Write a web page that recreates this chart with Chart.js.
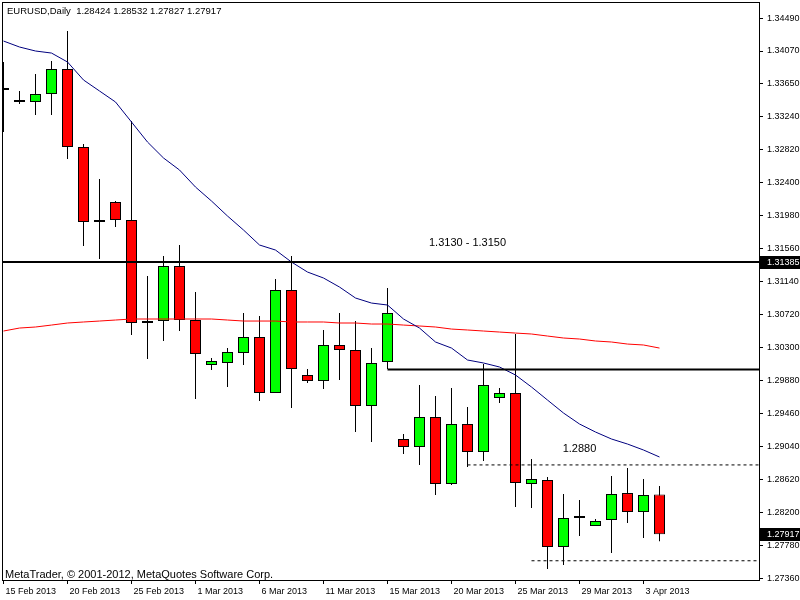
<!DOCTYPE html>
<html>
<head>
<meta charset="utf-8">
<title>EURUSD Daily</title>
<script src="https://cdn.jsdelivr.net/npm/chart.js@4.4.1/dist/chart.umd.min.js"></script>
<style>
    html, body { margin: 0; padding: 0; background: #ffffff; }
    #wrap { width: 800px; height: 600px; }
</style>
</head>
<body>
<div id="wrap"><canvas id="priceChart" width="800" height="600"></canvas></div>
<script>
// ============================================
// DATA (daily candles, 15 Feb 2013 - 4 Apr 2013)
// ============================================
const opens  = [1.33573, 1.33446, 1.33421, 1.33522, 1.33841, 1.32848, 1.31893, 1.32147, 1.31918, 1.30607,
                1.30632, 1.31332, 1.30645, 1.30072, 1.30098, 1.30225, 1.30429, 1.29716, 1.31027, 1.29945,
                1.29868, 1.30327, 1.30263, 1.29550, 1.30110, 1.29130, 1.29028, 1.29410, 1.28557, 1.29321,
                1.28964, 1.29652, 1.29716, 1.28557, 1.28608, 1.27755, 1.28124, 1.28022, 1.28099, 1.28442,
                1.28200, 1.28424];
const highs  = [1.33930, 1.33561, 1.33777, 1.33943, 1.34324, 1.32886, 1.32440, 1.32160, 1.33179, 1.31205,
                1.31460, 1.31600, 1.31001, 1.30161, 1.30288, 1.30734, 1.30696, 1.31167, 1.31460, 1.30021,
                1.30518, 1.30734, 1.30632, 1.30288, 1.31052, 1.29194, 1.29817, 1.29677, 1.29779, 1.29537,
                1.30085, 1.29779, 1.30467, 1.28875, 1.28646, 1.28430, 1.28353, 1.28111, 1.28659, 1.28761,
                1.28621, 1.28532];
const lows   = [1.33039, 1.33395, 1.33255, 1.33255, 1.32695, 1.31587, 1.31422, 1.31829, 1.30454, 1.30148,
                1.30378, 1.30505, 1.29639, 1.30008, 1.29792, 1.30072, 1.29614, 1.29716, 1.29525, 1.29843,
                1.29766, 1.29881, 1.29219, 1.29092, 1.30021, 1.28939, 1.28799, 1.28417, 1.28544, 1.28773,
                1.28850, 1.29588, 1.28264, 1.28251, 1.27475, 1.27526, 1.27895, 1.28022, 1.27678, 1.28060,
                1.27869, 1.27827];
const closes = [1.33573, 1.33421, 1.33522, 1.33841, 1.32848, 1.31893, 1.31893, 1.31918, 1.30607, 1.30632,
                1.31332, 1.30645, 1.30212, 1.30123, 1.30238, 1.30429, 1.29716, 1.31027, 1.30021, 1.29868,
                1.30327, 1.30263, 1.29550, 1.30098, 1.30734, 1.29028, 1.29410, 1.28557, 1.29321, 1.28964,
                1.29817, 1.29716, 1.28570, 1.28621, 1.27755, 1.28124, 1.28124, 1.28086, 1.28430, 1.28200,
                1.28417, 1.27917];

// moving averages
const maBlue = [1.34197, 1.34121, 1.34070, 1.34044, 1.33930, 1.33701, 1.33561, 1.33421, 1.33166, 1.32911,
                1.32708, 1.32555, 1.32338, 1.32160, 1.31969, 1.31791, 1.31600, 1.31536, 1.31383, 1.31256,
                1.31180, 1.31065, 1.30925, 1.30861, 1.30836, 1.30658, 1.30543, 1.30365, 1.30288, 1.30136,
                1.30098, 1.30047, 1.29945, 1.29792, 1.29626, 1.29461, 1.29321, 1.29219, 1.29130, 1.29066,
                1.28990, 1.28901];
const maRed  = [1.30505, 1.30543, 1.30556, 1.30581, 1.30607, 1.30620, 1.30632, 1.30645, 1.30658, 1.30658,
                1.30658, 1.30658, 1.30658, 1.30658, 1.30645, 1.30632, 1.30632, 1.30632, 1.30620, 1.30620,
                1.30620, 1.30607, 1.30607, 1.30594, 1.30594, 1.30581, 1.30569, 1.30556, 1.30530, 1.30518,
                1.30505, 1.30492, 1.30479, 1.30467, 1.30441, 1.30416, 1.30403, 1.30378, 1.30365, 1.30339,
                1.30327, 1.30288];

// axis ticks
const tickIdx    = [0, 4, 8, 12, 16, 20, 24, 28, 32, 36, 40];
const tickLabels = ['15 Feb 2013', '20 Feb 2013', '25 Feb 2013', '1 Mar 2013', '6 Mar 2013', '11 Mar 2013',
                    '15 Mar 2013', '20 Mar 2013', '25 Mar 2013', '29 Mar 2013', '3 Apr 2013'];
const priceTicks = [1.27360, 1.27780, 1.28200, 1.28620, 1.29040, 1.29460, 1.29880, 1.30300, 1.30720,
                    1.31140, 1.31560, 1.31980, 1.32400, 1.32820, 1.33240, 1.33650, 1.34070, 1.34490];

// drawn levels: [price, first bar index]
const solidLevels  = [[1.31385, -1], [1.30015, 24]];
const dashedLevels = [[1.28800, 29], [1.27580, 33]];
const markedPrices = [1.31385, 1.27917];
const lastBar = 'EURUSD,Daily  1.28424 1.28532 1.27827 1.27917';

// ============================================
// HELPERS
// ============================================
const X_MIN = -0.09375;
const X_MAX = 47.21875;

function candleColor(i) {
    if (closes[i] > opens[i]) return '#00ff00';
    if (closes[i] < opens[i]) return '#ff0000';
    return '#000000';
}

function levelData(level) {
    return [{ x: level[1], y: level[0] }, { x: X_MAX + 1, y: level[0] }];
}

const FONT = '"Liberation Sans", Arial, sans-serif';

// frame, texts and black price boxes
const mtOverlay = {
    id: 'mtOverlay',
    afterDraw(chart) {
        const ctx = chart.ctx;
        const a = chart.chartArea;
        const xs = chart.scales.x;
        const ys = chart.scales.y;
        ctx.save();

        ctx.strokeStyle = '#000';
        ctx.lineWidth = 1;
        ctx.strokeRect(a.left + 0.5, a.top + 0.5, a.right - a.left, a.bottom - a.top);

        ctx.fillStyle = '#000';
        ctx.textBaseline = 'middle';
        ctx.textAlign = 'left';
        ctx.font = '9.5px ' + FONT;
        ctx.fillText(lastBar, 7, 11);
        ctx.font = '11px ' + FONT;
        ctx.fillText('MetaTrader, \u00a9 2001-2012, MetaQuotes Software Corp.', 5, 575);

        ctx.textAlign = 'center';
        ctx.fillText('1.3130 - 1.3150', xs.getPixelForValue(29), ys.getPixelForValue(1.31625));
        ctx.fillText('1.2880', xs.getPixelForValue(36), ys.getPixelForValue(1.29003));

        ctx.font = '9px ' + FONT;
        ctx.textAlign = 'left';
        markedPrices.forEach(p => {
            const py = ys.getPixelForValue(p);
            ctx.fillStyle = '#000';
            ctx.fillRect(a.right + 1, Math.round(py) - 6, chart.width - a.right - 1, 13);
            ctx.fillStyle = '#fff';
            ctx.fillText(p.toFixed(5), a.right + 8, py + 0.5);
        });
        ctx.restore();
    }
};

// ============================================
// CHART
// ============================================
const idx = opens.map((_, i) => i);
const datasets = [];

solidLevels.forEach(l => datasets.push({
    type: 'line', data: levelData(l), borderColor: '#000', borderWidth: 2,
    pointRadius: 0, order: 0
}));
dashedLevels.forEach(l => datasets.push({
    type: 'line', data: levelData(l), borderColor: '#000', borderWidth: 1,
    borderDash: [3, 3], pointRadius: 0, order: 0
}));

datasets.push({
    type: 'line', data: idx.map(i => ({ x: i, y: maBlue[i] })), borderColor: '#00007f',
    borderWidth: 1, pointRadius: 0, tension: 0, order: 1
});
datasets.push({
    type: 'line', data: idx.map(i => ({ x: i, y: maRed[i] })), borderColor: '#ff0000',
    borderWidth: 1, pointRadius: 0, tension: 0, order: 1
});

// candle bodies
datasets.push({
    type: 'bar', data: idx.map(i => ({ x: i, y: [opens[i], closes[i]] })),
    backgroundColor: idx.map(candleColor), borderColor: '#000', borderWidth: 1,
    borderSkipped: false, barThickness: 11, minBarLength: 2, inflateAmount: 0,
    grouped: false, order: 2
});
// wicks
datasets.push({
    type: 'bar', data: idx.map(i => ({ x: i, y: [lows[i], highs[i]] })),
    backgroundColor: '#000', borderWidth: 0, barThickness: 1, inflateAmount: 0,
    grouped: false, order: 3
});

new Chart(document.getElementById('priceChart'), {
    type: 'bar',
    data: { datasets: datasets },
    options: {
        responsive: false,
        animation: false,
        events: [],
        layout: { padding: { left: 2, top: 2, right: 0, bottom: 0 } },
        plugins: { legend: { display: false }, tooltip: { enabled: false } },
        scales: {
            x: {
                type: 'linear',
                min: X_MIN,
                max: X_MAX,
                offset: false,
                bounds: 'data',
                border: { display: false },
                grid: { offset: false, drawOnChartArea: false, drawTicks: true, tickLength: 4, tickColor: '#000' },
                ticks: {
                    autoSkip: false, maxRotation: 0, minRotation: 0, align: 'start',
                    labelOffset: 2, padding: 2, color: '#000',
                    font: { family: FONT, size: 9 },
                    callback: (v, i) => tickLabels[i]
                },
                afterBuildTicks: scale => { scale.ticks = tickIdx.map(v => ({ value: v })); },
                afterFit: scale => {
                    scale.height = 20;
                    scale.paddingLeft = 0;
                    scale.paddingRight = 0;
                }
            },
            y: {
                type: 'linear',
                position: 'right',
                min: 1.27335,
                max: 1.34694,
                bounds: 'data',
                border: { display: false },
                grid: { drawOnChartArea: false, drawTicks: true, tickLength: 4, tickColor: '#000' },
                ticks: {
                    autoSkip: false, padding: 4, color: '#000',
                    font: { family: FONT, size: 9 },
                    callback: v => v.toFixed(5)
                },
                afterBuildTicks: scale => { scale.ticks = priceTicks.map(v => ({ value: v })); },
                afterFit: scale => {
                    scale.width = 41;
                    scale.paddingTop = 0;
                    scale.paddingBottom = 0;
                }
            }
        }
    },
    plugins: [mtOverlay]
});
</script>
</body>
</html>
